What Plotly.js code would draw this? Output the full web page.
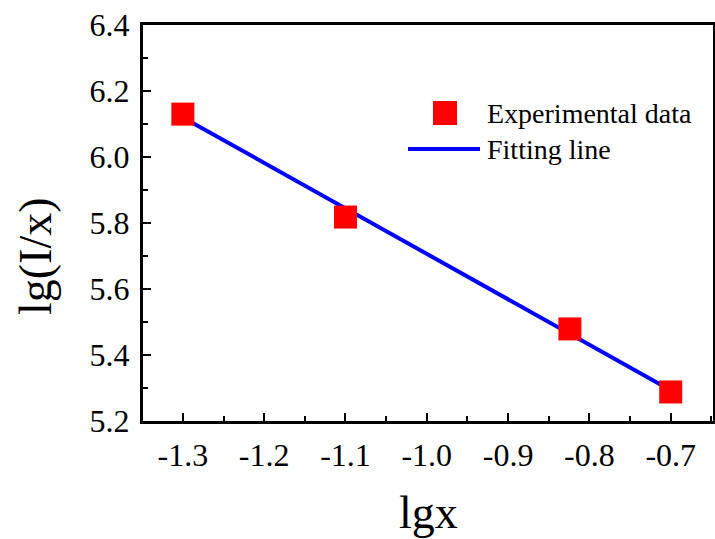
<!DOCTYPE html>
<html>
<head>
<meta charset="utf-8">
<script src="https://cdn.plot.ly/plotly-3.0.1.min.js"></script>
<style>html,body{margin:0;padding:0;background:#fff;}</style>
</head>
<body>
<div id="chart" style="width:715px;height:539px;"></div>
<script>
// Data
const lgx = [-1.3, -1.1, -0.824, -0.7];
const lgIx = [6.13, 5.818, 5.479, 5.288];
const fitX = [-1.3, -0.7];
const fitY = [6.12, 5.293];
const seriesNames = ["Experimental data", "Fitting line"];
const xTickVals = [-1.3, -1.2, -1.1, -1.0, -0.9, -0.8, -0.7];
const xTickText = ["-1.3", "-1.2", "-1.1", "-1.0", "-0.9", "-0.8", "-0.7"];
const yTickVals = [5.2, 5.4, 5.6, 5.8, 6.0, 6.2, 6.4];
const yTickText = ["5.2", "5.4", "5.6", "5.8", "6.0", "6.2", "6.4"];
const xTitle = "lgx";
const yTitle = "lg(I/x)";

const font = "Liberation Serif, Times New Roman, serif";

const traces = [
  {x: fitX, y: fitY, mode: "lines", name: seriesNames[1],
   line: {color: "#0000ff", width: 4}, showlegend: false},
  {x: lgx, y: lgIx, mode: "markers", name: seriesNames[0],
   marker: {symbol: "square", size: 23, color: "#ff0000"}, showlegend: false}
];

// helpers for paper coords of custom legend
const L = 143, R = 713, T = 25, B = 421;
const px = v => (v - L) / (R - L);
const py = v => (B - v) / (B - T);

const layout = {
  width: 715, height: 539,
  margin: {l: 143, r: 2, t: 25, b: 118},
  paper_bgcolor: "#fff", plot_bgcolor: "#fff",
  font: {family: font, color: "#000"},
  showlegend: false,
  xaxis: {
    range: [-1.349, -0.648], tickmode: "array", tickvals: xTickVals, ticktext: xTickText,
    ticks: "inside", ticklen: 8, tickwidth: 2, tickcolor: "#000",
    minor: {tickmode: "linear", tick0: -1.35, dtick: 0.05, ticks: "inside", ticklen: 5, tickwidth: 2, tickcolor: "#000"},
    showline: true, linecolor: "#000", linewidth: 3, mirror: true,
    showgrid: false, zeroline: false,
    tickfont: {family: font, size: 32, color: "#000"},
    ticklabelstandoff: 4
  },
  yaxis: {
    range: [5.2, 6.4], tickmode: "array", tickvals: yTickVals, ticktext: yTickText,
    ticks: "inside", ticklen: 8, tickwidth: 2, tickcolor: "#000",
    minor: {tickmode: "linear", tick0: 5.2, dtick: 0.1, ticks: "inside", ticklen: 5, tickwidth: 2, tickcolor: "#000"},
    showline: true, linecolor: "#000", linewidth: 3, mirror: true,
    showgrid: false, zeroline: false,
    tickfont: {family: font, size: 32, color: "#000"},
    ticklabelstandoff: 4
  },
  shapes: [
    {type: "rect", xref: "paper", yref: "paper",
     x0: px(433), x1: px(457), y0: py(125), y1: py(101),
     fillcolor: "#ff0000", line: {width: 0}},
    {type: "line", xref: "paper", yref: "paper",
     x0: px(408), x1: px(480), y0: py(149), y1: py(149),
     line: {color: "#0000ff", width: 4}}
  ],
  annotations: [
    {text: seriesNames[0], xref: "paper", yref: "paper", x: px(485), y: py(113),
     xanchor: "left", yanchor: "middle", showarrow: false,
     font: {family: font, size: 28, color: "#000"}},
    {text: seriesNames[1], xref: "paper", yref: "paper", x: px(485), y: py(149),
     xanchor: "left", yanchor: "middle", showarrow: false,
     font: {family: font, size: 28, color: "#000"}},
    {text: xTitle, xref: "paper", yref: "paper", x: px(428), y: py(512),
     xanchor: "center", yanchor: "middle", showarrow: false,
     font: {family: font, size: 46, color: "#000"}},
    {text: yTitle, xref: "paper", yref: "paper", x: px(36), y: py(256),
     xanchor: "center", yanchor: "middle", showarrow: false, textangle: -90,
     font: {family: font, size: 46, color: "#000"}}
  ]
};

Plotly.newPlot("chart", traces, layout, {displayModeBar: false, staticPlot: true});
</script>
</body>
</html>
